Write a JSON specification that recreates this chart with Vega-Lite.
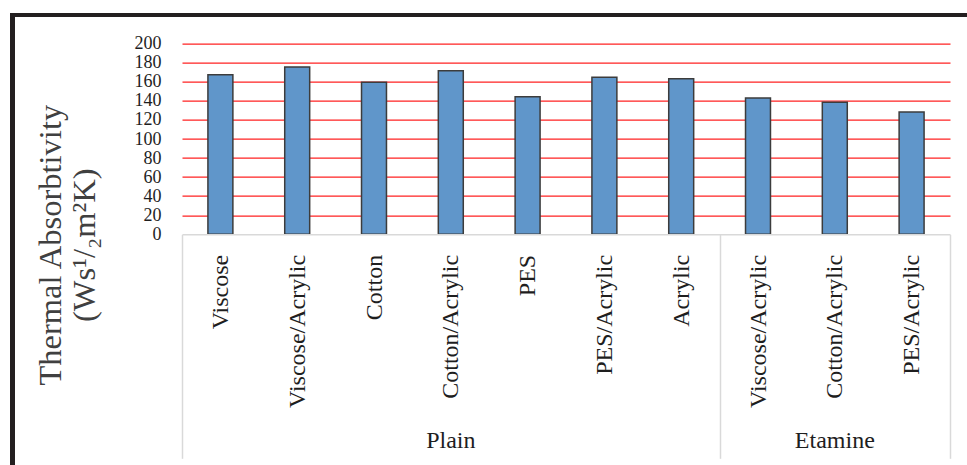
{
  "$schema": "https://vega.github.io/schema/vega-lite/v6.json",
  "padding": {"left": 10, "top": 13, "right": 0, "bottom": 0},
  "background": "white",
  "config": {"view": {"stroke": null}},
  "bounds": "flush",
  "spacing": 0,
  "hconcat": [
    {
      "width": 5,
      "height": 460,
      "data": {"values": [{}]},
      "mark": {"type": "rect", "color": "#231f20"},
      "encoding": {}
    },
    {
      "bounds": "flush",
      "spacing": 26.7,
      "vconcat": [
        {
          "width": 960,
          "height": 4,
          "data": {"values": [{}]},
          "mark": {"type": "rect", "color": "#231f20"},
          "encoding": {}
        },
        {
          "bounds": "flush",
          "spacing": 0,
          "hconcat": [
            {
              "width": 167,
              "height": 190.6,
              "data": {"values": [{}]},
              "mark": {"type": "rect", "opacity": 0},
              "encoding": {}
            },
            {
              "width": 768,
              "height": 190.6,
              "data": {
                "values": [
                  {"group": "Plain", "fabric": "Viscose", "value": 167.5},
                  {"group": "Plain", "fabric": "Viscose/Acrylic", "value": 175.5},
                  {"group": "Plain", "fabric": "Cotton", "value": 159.5},
                  {"group": "Plain", "fabric": "Cotton/Acrylic", "value": 171.7},
                  {"group": "Plain", "fabric": "PES", "value": 144.4},
                  {"group": "Plain", "fabric": "PES/Acrylic", "value": 164.7},
                  {"group": "Plain", "fabric": "Acrylic", "value": 163.3},
                  {"group": "Etamine", "fabric": "Viscose/Acrylic", "value": 143.0},
                  {"group": "Etamine", "fabric": "Cotton/Acrylic", "value": 138.5},
                  {"group": "Etamine", "fabric": "PES/Acrylic", "value": 128.3}
                ]
              },
              "transform": [{"calculate": "datum.group + '|' + datum.fabric", "as": "key"}],
              "resolve": {"axis": {"x": "independent"}},
              "layer": [
                {
                  "mark": {"type": "bar", "width": {"band": 0.325}, "fill": "#6096ca", "stroke": "#3c3c3c", "strokeWidth": 1.5},
                  "encoding": {
                    "x": {
                      "field": "key", "type": "nominal", "sort": null,
                      "scale": {"paddingInner": 0, "paddingOuter": 0},
                      "axis": {
                        "orient": "bottom",
                        "title": null,
                        "domainColor": "#d9d9d9", "domainWidth": 1.5,
                        "labelAngle": -90,
                        "labelExpr": "datum.value ? split(datum.value, '|')[1] : ''",
                        "labelFont": "Liberation Serif", "labelFontSize": 24, "labelColor": "#1e1e1e",
                        "tickBand": "extent", "tickSize": 224, "tickWidth": 1.5,
                        "tickColor": {"condition": {"test": "!datum.value || datum.value === 'Plain|Acrylic' || datum.value === 'Etamine|PES/Acrylic'", "value": "#d9d9d9"}, "value": "transparent"},
                        "labelPadding": -204,
                        "zindex": 1
                      }
                    },
                    "y": {
                      "field": "value", "type": "quantitative",
                      "scale": {"domain": [0, 200], "nice": false},
                      "axis": {
                        "values": [0, 20, 40, 60, 80, 100, 120, 140, 160, 180, 200],
                        "labelOverlap": false,
                        "domain": false, "ticks": false,
                        "grid": true, "gridWidth": 1.3,
                        "gridColor": {"condition": {"test": "datum.value === 0", "value": "transparent"}, "value": "#ff2222"},
                        "labelFont": "Liberation Serif", "labelFontSize": 18, "labelColor": "#1e1e1e", "labelPadding": 21,
                        "title": ["Thermal Absorbtivity", "(Ws¹/₂m²K)"],
                        "titleFont": "Liberation Serif", "titleFontSize": 32.5, "titleFontWeight": "normal",
                        "titleColor": "#404040", "titleLineHeight": 34, "titlePadding": 33,
                        "titleY": 201
                      }
                    }
                  }
                },
                {
                  "mark": {"type": "point", "opacity": 0},
                  "encoding": {
                    "x": {
                      "field": "key", "type": "nominal", "sort": null,
                      "axis": {
                        "orient": "bottom",
                        "title": null,
                        "values": ["Plain|Cotton/Acrylic", "Etamine|Cotton/Acrylic"],
                        "labelExpr": "datum.value ? split(datum.value, '|')[0] : ''",
                        "labelAngle": 0,
                        "labelFont": "Liberation Serif", "labelFontSize": 24, "labelColor": "#1e1e1e",
                        "labelPadding": 194,
                        "domain": false, "ticks": false, "grid": false
                      }
                    }
                  }
                }
              ]
            }
          ]
        }
      ]
    }
  ]
}
